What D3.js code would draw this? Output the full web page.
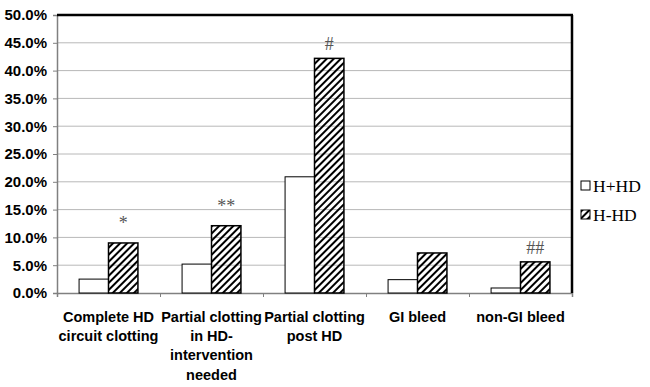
<!DOCTYPE html>
<html>
<head>
<meta charset="utf-8">
<script src="https://cdn.jsdelivr.net/npm/d3@7"></script>
<style>
  body { margin: 0; background: #fff; }
  svg { display: block; }
</style>
</head>
<body>
<div id="chart"></div>
<script>
// Data
const categories = [
    ["Complete HD", "circuit clotting"],
    ["Partial clotting", "in HD-", "intervention", "needed"],
    ["Partial clotting", "post HD"],
    ["GI bleed"],
    ["non-GI bleed"]
];
const seriesNames = ["H+HD", "H-HD"];
const withHeparin = [0.025, 0.052, 0.209, 0.024, 0.009];
const withoutHeparin = [0.090, 0.121, 0.422, 0.072, 0.056];
const markers = ["*", "**", "#", "", "##"];
const yTicks = [0, 0.05, 0.10, 0.15, 0.20, 0.25, 0.30, 0.35, 0.40, 0.45, 0.50];

const W = 650, H = 387;
const margin = { top: 15, right: 78, bottom: 94, left: 57 };
const width = W - margin.left - margin.right;
const height = H - margin.top - margin.bottom;

const svg = d3.select("#chart")
    .append("svg")
    .attr("width", W)
    .attr("height", H);

// Diagonal hatch for H-HD
const defs = svg.append("defs");
defs.append("pattern")
    .attr("id", "hatch")
    .attr("patternUnits", "userSpaceOnUse")
    .attr("width", 5)
    .attr("height", 5)
    .attr("patternTransform", "rotate(45)")
    .append("rect")
    .attr("x", 0).attr("y", 0)
    .attr("width", 2).attr("height", 5)
    .attr("fill", "#000");

const g = svg.append("g")
    .attr("transform", `translate(${margin.left},${margin.top})`);

const x = d3.scaleBand()
    .domain(d3.range(categories.length))
    .range([0, width])
    .paddingInner(0)
    .paddingOuter(0);

const x1 = d3.scaleBand()
    .domain(seriesNames)
    .range([0, x.bandwidth()])
    .paddingOuter(0.75)
    .paddingInner(0);

const y = d3.scaleLinear()
    .domain([0, 0.5])
    .range([height, 0]);

// Grid lines
g.append("g")
    .selectAll("line")
    .data(yTicks.slice(1, -1))
    .enter()
    .append("line")
    .attr("x1", 0)
    .attr("x2", width)
    .attr("y1", d => y(d))
    .attr("y2", d => y(d))
    .attr("stroke", "#b8b8b8")
    .attr("stroke-width", 1);

// Y axis
const yAxis = g.append("g")
    .call(d3.axisLeft(y)
        .tickValues(yTicks)
        .tickSize(4)
        .tickFormat(d3.format(".1%")));
yAxis.select(".domain").attr("stroke", "#808080").attr("stroke-width", 1.5);
yAxis.selectAll(".tick line").attr("stroke", "#808080");
yAxis.selectAll("text")
    .attr("x", -10)
    .style("font-family", "'Liberation Sans', Arial, sans-serif")
    .style("font-weight", "bold")
    .style("font-size", "15px")
    .attr("fill", "#000");

// X axis
const xAxis = g.append("g")
    .attr("transform", `translate(0,${height})`)
    .call(d3.axisBottom(d3.scaleLinear().domain([0, categories.length]).range([0, width]))
        .tickValues(d3.range(categories.length + 1))
        .tickSize(4)
        .tickFormat(""));
xAxis.select(".domain").attr("stroke", "#808080").attr("stroke-width", 1.5);
xAxis.selectAll(".tick line").attr("stroke", "#808080");

// Bars
const groups = g.selectAll(".group")
    .data(categories.map((c, i) => i))
    .enter()
    .append("g")
    .attr("transform", i => `translate(${x(i)},0)`);

groups.append("rect")
    .attr("x", x1("H+HD"))
    .attr("width", x1.bandwidth())
    .attr("y", i => y(withHeparin[i]))
    .attr("height", i => height - y(withHeparin[i]))
    .attr("fill", "#fff")
    .attr("stroke", "#000")
    .attr("stroke-width", 1);

groups.append("rect")
    .attr("x", x1("H-HD"))
    .attr("width", x1.bandwidth())
    .attr("y", i => y(withoutHeparin[i]))
    .attr("height", i => height - y(withoutHeparin[i]))
    .attr("fill", "url(#hatch)")
    .attr("stroke", "#000")
    .attr("stroke-width", 1.5);

// Significance markers (# sits closer to the bar than *)
groups.append("text")
    .attr("x", x1("H-HD") + x1.bandwidth() / 2)
    .attr("y", i => y(withoutHeparin[i]) - (markers[i].startsWith("#") ? 8 : 14))
    .attr("text-anchor", "middle")
    .style("font-family", "'Liberation Serif', 'Times New Roman', serif")
    .style("font-size", "18px")
    .attr("fill", "#555")
    .text(i => markers[i]);

// Category labels
const labels = g.append("g")
    .selectAll("text")
    .data(categories)
    .enter()
    .append("text")
    .attr("x", (d, i) => x(i) + x.bandwidth() / 2)
    .attr("y", height + 29)
    .attr("text-anchor", "middle")
    .style("font-family", "'Liberation Sans', Arial, sans-serif")
    .style("font-weight", "bold")
    .style("font-size", "14.5px")
    .attr("fill", "#000");
labels.selectAll("tspan")
    .data(d => d)
    .enter()
    .append("tspan")
    .attr("x", function() { return d3.select(this.parentNode).attr("x"); })
    .attr("dy", (d, i) => i === 0 ? 0 : 19.2)
    .text(d => d);

// Frame: top and right borders
g.append("line")
    .attr("x1", 0).attr("x2", width + 1)
    .attr("y1", 0).attr("y2", 0)
    .attr("stroke", "#000").attr("stroke-width", 2.5);
g.append("line")
    .attr("x1", width).attr("x2", width)
    .attr("y1", 0).attr("y2", height)
    .attr("stroke", "#000").attr("stroke-width", 2.5);

// Legend
const legend = svg.append("g")
    .attr("transform", "translate(581,181)");
const legendItems = legend.selectAll("g")
    .data(seriesNames)
    .enter()
    .append("g")
    .attr("transform", (d, i) => `translate(0,${i * 29})`);
legendItems.append("rect")
    .attr("x", 0).attr("y", 0)
    .attr("width", 9).attr("height", 9)
    .attr("fill", (d, i) => i === 0 ? "#fff" : "url(#hatch)")
    .attr("stroke", "#000")
    .attr("stroke-width", 1);
legendItems.append("text")
    .attr("x", 12)
    .attr("y", 11)
    .style("font-family", "'Liberation Serif', 'Times New Roman', serif")
    .style("font-size", "17.5px")
    .attr("fill", "#000")
    .text(d => d);
</script>
</body>
</html>
